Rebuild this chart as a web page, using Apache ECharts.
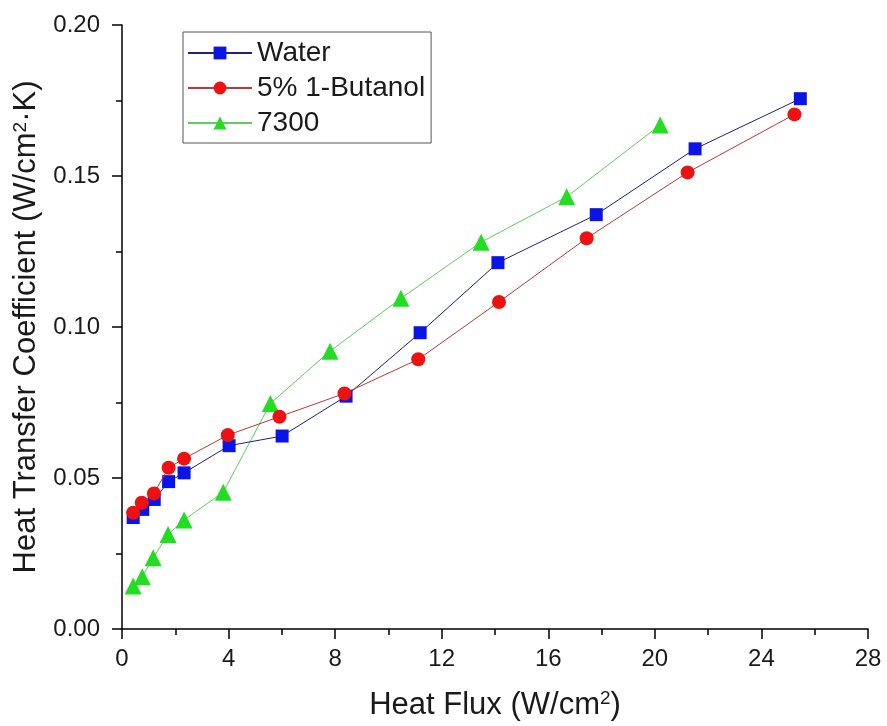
<!DOCTYPE html>
<html>
<head>
<meta charset="utf-8">
<script src="https://cdn.jsdelivr.net/npm/echarts@6/dist/echarts.min.js"></script>
<style>
  html, body { margin: 0; padding: 0; background: #fff; }
  #chart { width: 887px; height: 726px; }
</style>
</head>
<body>
<div id="chart"></div>
<script>
// Heat flux (W/cm^2) and heat transfer coefficient (W/cm^2·K) per fluid
const waterFlux = [0.42, 0.78, 1.21, 1.75, 2.33, 4.02, 6.01, 8.41, 11.19, 14.11, 17.80, 21.51, 25.46];
const waterHTC  = [0.0369, 0.0396, 0.0429, 0.0488, 0.0517, 0.0607, 0.0639, 0.0771, 0.0981, 0.1213, 0.1372, 0.1590, 0.1756];

const butanolFlux = [0.42, 0.74, 1.20, 1.75, 2.33, 3.97, 5.91, 8.35, 11.12, 14.15, 17.44, 21.23, 25.24];
const butanolHTC  = [0.0385, 0.0418, 0.0449, 0.0534, 0.0564, 0.0642, 0.0703, 0.0780, 0.0893, 0.1083, 0.1294, 0.1512, 0.1704];

const fluidFlux = [0.42, 0.76, 1.17, 1.73, 2.33, 3.80, 5.57, 7.81, 10.47, 13.48, 16.69, 20.20];
const fluidHTC  = [0.0142, 0.0173, 0.0236, 0.0313, 0.0361, 0.0453, 0.0747, 0.0920, 0.1095, 0.1281, 0.1431, 0.1669];

const seriesNames = ['Water', '5% 1-Butanol', '7300'];

const pairs = (xs, ys) => xs.map((x, i) => [x, ys[i]]);

const FONT = 'Arial, "Liberation Sans", sans-serif';
const INK = '#1a1a1a';

const nameRich = {
  t: { fontSize: 31, fontFamily: FONT, color: INK },
  s: { fontSize: 19, fontFamily: FONT, color: INK, verticalAlign: 'top', padding: [0, 0, 13, 0] }
};

const chart = echarts.init(document.getElementById('chart'), null, { renderer: 'canvas' });

chart.setOption({
  animation: false,
  backgroundColor: '#fff',
  textStyle: { fontFamily: FONT, color: INK },
  grid: { left: 122, right: 19, top: 25, bottom: 97, containLabel: false },
  legend: {
    orient: 'vertical',
    left: 183,
    top: 32,
    padding: [7, 6, 6, 4],
    itemGap: 7,
    itemWidth: 64,
    itemHeight: 16,
    borderColor: '#555',
    borderWidth: 1,
    textStyle: { fontSize: 28, color: INK, fontFamily: FONT },
    data: seriesNames
  },
  xAxis: {
    type: 'value',
    min: 0, max: 28, interval: 4,
    name: '{t|Heat Flux (W/cm}{s|2}{t|)}',
    nameLocation: 'middle',
    nameGap: 60,
    nameTextStyle: { rich: nameRich },
    axisLine: { show: true, lineStyle: { color: '#000', width: 1.5 } },
    axisTick: { show: true, inside: false, length: 10, lineStyle: { color: '#000', width: 1.5 } },
    minorTick: { show: true, splitNumber: 2, length: 6, lineStyle: { color: '#000', width: 1.5 } },
    axisLabel: { fontSize: 24, color: INK, margin: 18, fontFamily: FONT },
    splitLine: { show: false }
  },
  yAxis: {
    type: 'value',
    min: 0, max: 0.2, interval: 0.05,
    name: '{t|Heat Transfer Coefficient (W/cm}{s|2}{t|·K)}',
    nameLocation: 'middle',
    nameGap: 71,
    nameRotate: 90,
    nameTextStyle: { rich: nameRich },
    axisLine: { show: true, lineStyle: { color: '#000', width: 1.5 } },
    axisTick: { show: true, inside: false, length: 10, lineStyle: { color: '#000', width: 1.5 } },
    minorTick: { show: true, splitNumber: 2, length: 6, lineStyle: { color: '#000', width: 1.5 } },
    axisLabel: {
      fontSize: 24, color: INK, margin: 22, fontFamily: FONT,
      formatter: v => v.toFixed(2)
    },
    splitLine: { show: false }
  },
  series: [
    {
      name: seriesNames[0],
      type: 'line',
      data: pairs(waterFlux, waterHTC),
      symbol: 'rect',
      symbolSize: 13,
      itemStyle: { color: '#0a14e6' },
      lineStyle: { color: '#202080', width: 1 },
      z: 3
    },
    {
      name: seriesNames[1],
      type: 'line',
      data: pairs(butanolFlux, butanolHTC),
      symbol: 'circle',
      symbolSize: 14,
      itemStyle: { color: '#ee1111' },
      lineStyle: { color: '#b83a3a', width: 1 },
      z: 4
    },
    {
      name: seriesNames[2],
      type: 'line',
      data: pairs(fluidFlux, fluidHTC),
      symbol: 'triangle',
      symbolSize: 17,
      itemStyle: { color: '#22dd22' },
      lineStyle: { color: '#5ccf5c', width: 1 },
      z: 2
    }
  ]
});
</script>
</body>
</html>
